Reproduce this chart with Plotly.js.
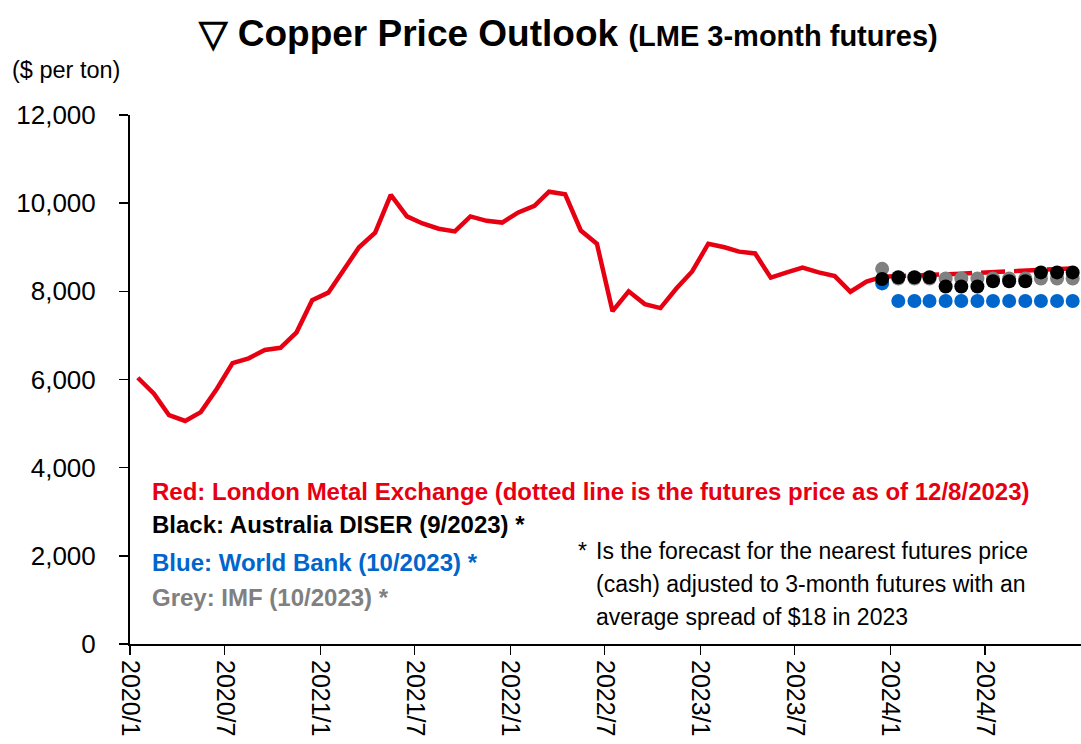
<!DOCTYPE html>
<html>
<head>
<meta charset="utf-8">
<script src="https://cdn.plot.ly/plotly-3.0.1.min.js"></script>
<style>
  html, body { margin: 0; padding: 0; background: #fff; }
  #chart { width: 1081px; height: 744px; }
</style>
</head>
<body>
<div id="chart"></div>
<script>
// monthly points sit in the middle of each month, ticks on the 1st
var lmeMonths = [
  "2020-01","2020-02","2020-03","2020-04","2020-05","2020-06","2020-07","2020-08","2020-09","2020-10","2020-11","2020-12",
  "2021-01","2021-02","2021-03","2021-04","2021-05","2021-06","2021-07","2021-08","2021-09","2021-10","2021-11","2021-12",
  "2022-01","2022-02","2022-03","2022-04","2022-05","2022-06","2022-07","2022-08","2022-09","2022-10","2022-11","2022-12",
  "2023-01","2023-02","2023-03","2023-04","2023-05","2023-06","2023-07","2023-08","2023-09","2023-10","2023-11","2023-12"
];
var lmePrice = [
  6040, 5680, 5190, 5060, 5260, 5790, 6370, 6480, 6670, 6720, 7070, 7800,
  7970, 8520, 9000, 9330, 10190, 9700, 9540, 9420, 9360, 9700, 9600, 9560,
  9790, 9940, 10260, 10200, 9380, 9080, 7550, 8000, 7710, 7620, 8070, 8450,
  9080, 9000, 8900, 8860, 8310, 8430, 8536, 8430, 8346, 7990, 8220, 8330
];

var forecastMonths = ["2023-12","2024-01","2024-02","2024-03","2024-04","2024-05","2024-06",
                      "2024-07","2024-08","2024-09","2024-10","2024-11","2024-12"];
var futuresPrice = [8330, 8340, 8350, 8360, 8380, 8400, 8420, 8440, 8460, 8480, 8490, 8500, 8520];
var diserForecast = [8280, 8320, 8320, 8320, 8110, 8110, 8110, 8230, 8230, 8230, 8430, 8430, 8430];
var worldBankForecast = [8180, 7780, 7780, 7780, 7780, 7780, 7780, 7780, 7780, 7780, 7780, 7780, 7780];
var imfForecast = [8510, 8290, 8290, 8290, 8290, 8290, 8290, 8290, 8290, 8290, 8290, 8290, 8290];

var tickDates = ["2020-01-01","2020-07-01","2021-01-01","2021-07-01","2022-01-01","2022-07-01",
                 "2023-01-01","2023-07-01","2024-01-01","2024-07-01"];
var tickLabels = ["2020/1","2020/7","2021/1","2021/7","2022/1","2022/7","2023/1","2023/7","2024/1","2024/7"];

function midMonth(m) { return m + "-16"; }

var FONT = "Liberation Sans Narrow, Arial Narrow, Liberation Sans, Arial, sans-serif";
var RED = "#E60012", BLUE = "#0066CC", GREY = "#808080";

var traces = [
  { x: lmeMonths.map(midMonth), y: lmePrice, type: "scatter", mode: "lines",
    line: { color: RED, width: 4.5 } },
  { x: forecastMonths.map(midMonth), y: futuresPrice, type: "scatter", mode: "lines",
    line: { color: RED, width: 4.5, dash: "24px,9px" } },
  { x: forecastMonths.map(midMonth), y: worldBankForecast, type: "scatter", mode: "markers",
    marker: { color: BLUE, size: 14 } },
  { x: forecastMonths.map(midMonth), y: imfForecast, type: "scatter", mode: "markers",
    marker: { color: GREY, size: 14 } },
  { x: forecastMonths.map(midMonth), y: diserForecast, type: "scatter", mode: "markers",
    marker: { color: "#000000", size: 14 } }
];

function note(text, x, y, color, size, bold) {
  return { text: bold ? "<b>" + text + "</b>" : text, xref: "paper", yref: "paper",
    x: x, y: y, xanchor: "left", yanchor: "middle", showarrow: false,
    font: { family: FONT, size: size, color: color } };
}

var layout = {
  width: 1081, height: 744,
  margin: { l: 130, r: 0, t: 115, b: 100 },
  paper_bgcolor: "#fff", plot_bgcolor: "#fff",
  showlegend: false,
  font: { family: FONT, color: "#000" },
  title: {
    text: "<b>▽ Copper Price Outlook <span style='font-size:29px'>(LME 3-month futures)</span></b>",
    x: 0.526, xanchor: "center", y: 0.956, yanchor: "middle",
    font: { family: FONT, size: 37, color: "#000" }
  },
  xaxis: {
    type: "date", range: ["2020-01-01", "2025-01-01"],
    tickvals: tickDates, ticktext: tickLabels, tickangle: 90,
    ticks: "outside", ticklen: 9, tickwidth: 1.5, tickcolor: "#000",
    showline: true, linecolor: "#000", linewidth: 2,
    showgrid: false, zeroline: false,
    tickfont: { family: FONT, size: 25, color: "#000" }
  },
  yaxis: {
    range: [0, 12000], tickvals: [0, 2000, 4000, 6000, 8000, 10000, 12000],
    tickformat: ",", ticks: "outside", ticklen: 9, tickwidth: 1.5, tickcolor: "#000",
    ticklabelstandoff: 18,
    showline: true, linecolor: "#000", linewidth: 2,
    showgrid: false, zeroline: false,
    tickfont: { family: FONT, size: 26, color: "#000" }
  },
  annotations: [
    note("($ per ton)", -0.126, 1.085, "#000", 23.5, false),
    note("Red: London Metal Exchange (dotted line is the futures price as of 12/8/2023)", 0.021, 0.289, RED, 24, true),
    note("Black: Australia DISER (9/2023) *", 0.021, 0.225, "#000", 24, true),
    note("Blue: World Bank (10/2023) *", 0.021, 0.155, BLUE, 24, true),
    note("Grey: IMF (10/2023) *", 0.021, 0.088, GREY, 24, true),
    note("*", 0.469, 0.176, "#000", 23, false),
    note("Is the forecast for the nearest futures price", 0.488, 0.176, "#000", 23, false),
    note("(cash) adjusted to 3-month futures with an", 0.488, 0.113, "#000", 23, false),
    note("average spread of $18 in 2023", 0.488, 0.051, "#000", 23, false)
  ]
};

Plotly.newPlot("chart", traces, layout, { displayModeBar: false, staticPlot: true });
</script>
</body>
</html>
